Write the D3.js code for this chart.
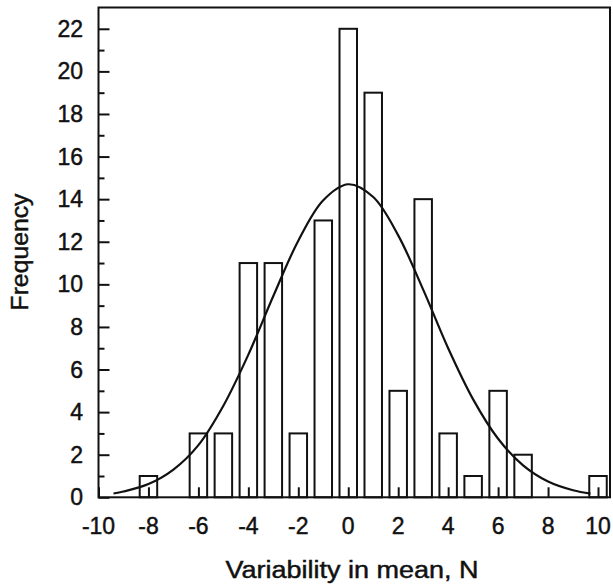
<!DOCTYPE html>
<html>
<head>
<meta charset="utf-8">
<script src="https://cdn.jsdelivr.net/npm/d3@7"></script>
<style>
  body { margin: 0; background: #fff; }
  text { font-family: "Liberation Sans", Arial, sans-serif; fill: #111; stroke: #111; stroke-width: 0.45px; }
</style>
</head>
<body>
<svg id="chart" width="613" height="587"></svg>
<script>
// histogram bins (bin centre -> count)
const binCenters = [-8, -6, -5, -4, -3, -2, -1, 0, 1, 2, 3, 4, 5, 6, 7, 10];
const binCounts  = [ 1,  3,  3, 11, 11,  3, 13, 22, 19, 5, 14, 3, 1, 5, 2, 1];

// fitted normal curve
const curveX = [-9.4, -9, -8, -7, -6, -5, -4, -3, -2, -1, 0, 1, 2, 3, 4, 5, 6, 7, 8, 9, 9.7];
const curveY = [0.18, 0.27, 0.62, 1.3, 2.45, 4.3, 6.7, 9.45, 12.05, 13.95, 14.7, 14.1, 12.3, 9.75, 7.0, 4.6, 2.75, 1.5, 0.74, 0.33, 0.17];

const xTicks = [-10, -8, -6, -4, -2, 0, 2, 4, 6, 8, 10];
const yTicks = [0, 2, 4, 6, 8, 10, 12, 14, 16, 18, 20, 22];
const yMinorTicks = [1, 3, 5, 7, 9, 11, 13, 15, 17, 19, 21];

const margin = { left: 98.5, top: 7.5, right: 3, bottom: 90 };
const width = 613, height = 587;
const svg = d3.select('#chart');

const x = d3.scaleLinear().domain([-10, 10.48]).range([margin.left, width - margin.right]);
const y = d3.scaleLinear().domain([0, 23]).range([497.3, margin.top]);

const barWidth = x(0.7) - x(0);

// bars
svg.append('g').selectAll('rect').data(binCenters).enter().append('rect')
    .attr('x', (d) => x(d) - barWidth / 2)
    .attr('y', (d, i) => y(binCounts[i]))
    .attr('width', barWidth)
    .attr('height', (d, i) => y(0) - y(binCounts[i]))
    .attr('fill', 'none')
    .attr('stroke', '#111')
    .attr('stroke-width', 2);

// axes, ticks pointing inward
const xAxis = svg.append('g').attr('transform', `translate(0,${y(0)})`)
    .call(d3.axisTop(x).tickValues(xTicks).tickSize(10).tickFormat(''));
const yAxis = svg.append('g').attr('transform', `translate(${x(-10)},0)`)
    .call(d3.axisRight(y).tickValues(yTicks).tickSize(11).tickFormat(''));
const yMinor = svg.append('g').attr('transform', `translate(${x(-10)},0)`)
    .call(d3.axisRight(y).tickValues(yMinorTicks).tickSize(6).tickFormat(''));

[xAxis, yAxis, yMinor].forEach((g) => {
    g.select('.domain').remove();
    g.selectAll('line').attr('stroke', '#111').attr('stroke-width', 2);
});

// frame
svg.append('rect')
    .attr('x', x(-10)).attr('y', y(23))
    .attr('width', x(10.48) - x(-10)).attr('height', y(0) - y(23))
    .attr('fill', 'none').attr('stroke', '#111').attr('stroke-width', 2);

// normal curve
const line = d3.line().x((d, i) => x(curveX[i])).y((d) => y(d)).curve(d3.curveCatmullRom);
svg.append('path').datum(curveY)
    .attr('d', line)
    .attr('fill', 'none').attr('stroke', '#111').attr('stroke-width', 2.2);

// tick labels
svg.append('g').selectAll('text').data(xTicks).enter().append('text')
    .attr('x', (d) => x(d)).attr('y', 534)
    .attr('text-anchor', 'middle')
    .attr('font-size', 23)
    .text((d) => d);

svg.append('g').selectAll('text').data(yTicks).enter().append('text')
    .attr('x', 83).attr('y', (d) => y(d) + 8)
    .attr('text-anchor', 'end')
    .attr('font-size', 23)
    .text((d) => d);

// axis titles
svg.append('text')
    .attr('x', 352).attr('y', 578)
    .attr('text-anchor', 'middle')
    .attr('font-size', 23)
    .attr('textLength', 253)
    .attr('lengthAdjust', 'spacingAndGlyphs')
    .text('Variability in mean, N');

svg.append('text')
    .attr('transform', 'translate(28,252) rotate(-90)')
    .attr('text-anchor', 'middle')
    .attr('font-size', 23)
    .attr('textLength', 117)
    .attr('lengthAdjust', 'spacingAndGlyphs')
    .text('Frequency');
</script>
</body>
</html>
